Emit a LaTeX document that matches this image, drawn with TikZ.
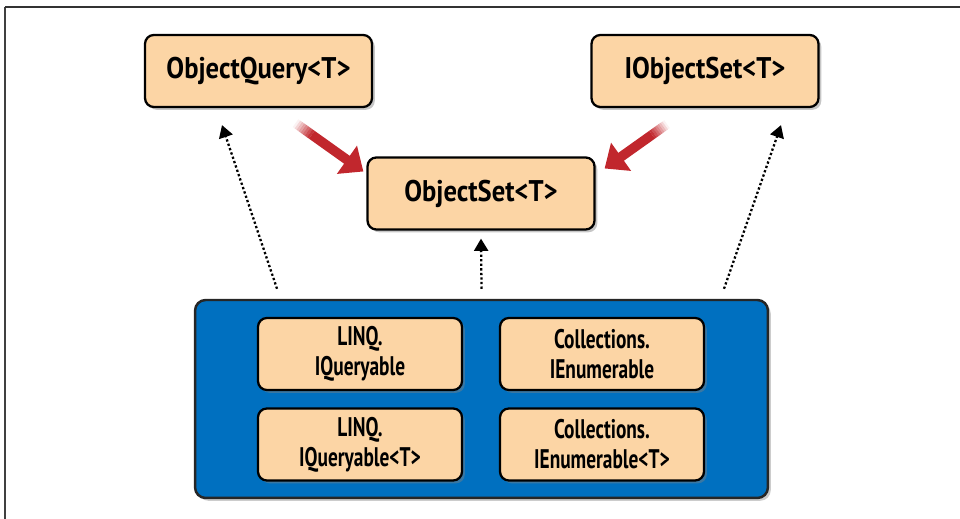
\documentclass[tikz,border=0pt]{standalone}
\usepackage{fontspec}
\setmainfont{PT Sans}
\newfontfamily\classfont{PT Sans}[FakeStretch=0.89]
\newfontfamily\ifacefont{PT Sans}[FakeStretch=0.72]
\usetikzlibrary{arrows.meta, positioning, shadows, calc}

\definecolor{classfill}{RGB}{252,213,165}
\definecolor{groupblue}{RGB}{0,112,192}
\definecolor{inheritred}{RGB}{193,39,45}

\begin{document}
\begin{tikzpicture}[
    x=0.02cm, y=-0.02cm,
    classbox/.style={rectangle, rounded corners=5pt, draw=black, line width=1.3pt, fill=classfill, minimum width=4.54cm, minimum height=1.44cm, align=center, font=\classfont\bfseries\fontsize{17}{18}\selectfont, drop shadow={shadow xshift=1.6pt, shadow yshift=-1.6pt, opacity=0.45}},
    ifacebox/.style={classbox, minimum width=4.08cm, font=\ifacefont\bfseries\fontsize{15.3}{17}\selectfont},
    groupbox/.style={rectangle, rounded corners=6pt, draw=black!85, line width=1.4pt, fill=groupblue, minimum width=11.46cm, minimum height=3.96cm, drop shadow={shadow xshift=1.6pt, shadow yshift=-1.6pt, opacity=0.4}},
    redarrow/.style={-{Triangle[width=19pt, length=11.5pt]}, line width=5.5pt, draw=inheritred},
    redtail/.style={line width=5.5pt, draw=inheritred},
    dotarrow/.style={-{Triangle[width=8pt, length=7pt]}, line width=1.3pt, dash pattern=on 1.3pt off 1.3pt}
]
\useasboundingbox (0,0) rectangle (960,519);

% frame
\draw[black!75, line width=0.6pt] (5,519) -- (5,7);
\draw[black!80, line width=1.4pt] (5,7) -- (960,7);

% classes
\node[classbox] (query) at (258.5,71) {ObjectQuery<T>};
\node[classbox] (iset) at (705,71) {IObjectSet<T>};
\node[classbox] (oset) at (481,193.5) {ObjectSet<T>};

% interfaces
\node[groupbox] (group) at (481.5,399) {};
\node[ifacebox] (lq) at (360,354) {LINQ.\\IQueryable};
\node[ifacebox] (ce) at (602,354) {Collections.\\IEnumerable};
\node[ifacebox] (lqt) at (360,444.5) {LINQ.\\IQueryable<T>};
\node[ifacebox] (cet) at (602,444.5) {Collections.\\IEnumerable<T>};

% red arrows, faded tails
\coordinate (qtail) at ([shift={(37,15)}]query.south);
\coordinate (qhead) at ([shift={(-3,-22)}]oset.west);
\coordinate (itail) at ([shift={(-38,16)}]iset.south);
\coordinate (ihead) at ([shift={(9,-25)}]oset.east);
\foreach \a/\b in {qtail/qhead, itail/ihead} {
    \foreach \i [evaluate=\i as \op using \i/8+0.06] in {0,...,7}
        \draw[redtail, opacity=\op] ($(\a)!\i*0.03!(\b)$) -- ($(\a)!\i*0.03+0.031!(\b)$);
    \draw[redarrow] ($(\a)!0.24!(\b)$) -- (\b);
}

% dotted arrows
\foreach \dx/\t/\tx/\ty in {-204.5/query/-36.5/17, 0/oset/0/8, 242.5/iset/76/17}
    \draw[dotarrow] ([shift={(\dx,-10)}]group.north) -- ([shift={(\tx,\ty)}]\t.south);

\end{tikzpicture}
\end{document}
